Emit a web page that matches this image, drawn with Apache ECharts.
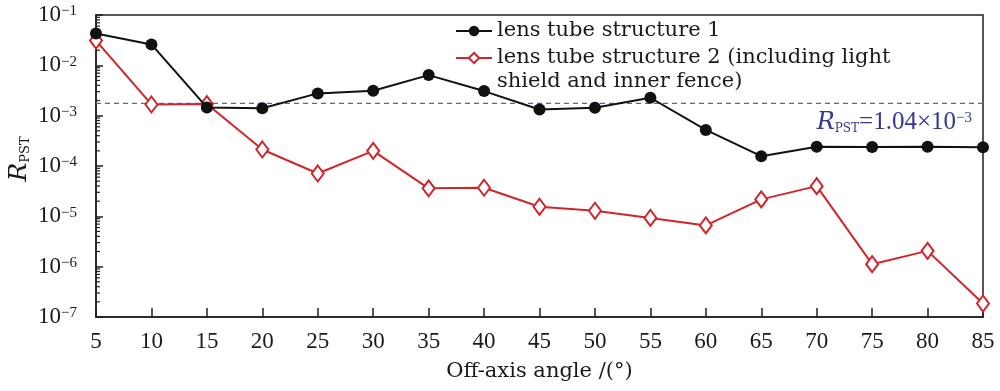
<!DOCTYPE html>
<html><head><meta charset="utf-8">
<script src="https://cdn.jsdelivr.net/npm/echarts@6/dist/echarts.min.js"></script>
<style>html,body{margin:0;padding:0;background:#fff}#c{width:1000px;height:391px}</style>
</head><body><div id="c"></div>
<script>
const angles = [5,10,15,20,25,30,35,40,45,50,55,60,65,70,75,80,85];
const structure1 = [4.3e-2,2.6e-2,1.46e-3,1.40e-3,2.77e-3,3.13e-3,6.4e-3,3.08e-3,1.33e-3,1.44e-3,2.27e-3,5.2e-4,1.57e-4,2.41e-4,2.38e-4,2.41e-4,2.35e-4];
const structure2 = [3.1e-2,1.67e-3,1.70e-3,2.13e-4,7.1e-5,2.0e-4,3.6e-5,3.7e-5,1.55e-5,1.29e-5,9.3e-6,6.6e-6,2.17e-5,3.98e-5,1.12e-6,2.06e-6,1.85e-7];
const seriesNames = ['lens tube structure 1','lens tube structure 2 (including light\nshield and inner fence)'];
const refLineValue = 1.76e-3;
const refLineLabel = '{r|R}{s|PST}{n|=1.04×10}{e|−3}';
const yMin = 1e-7, yMax = 1e-1, xMin = 5, xMax = 85;

const minorVals = [];
for (let k = -7; k <= -2; k++) for (let m = 2; m <= 9; m++) minorVals.push(m * Math.pow(10, k));

const FONT = 'DejaVu Serif';
const NUMFONT = 'Liberation Serif';
const legendText = {fontFamily:FONT,fontSize:21,color:'#1a1a1a',lineHeight:24};
const chart = echarts.init(document.getElementById('c'), null, {renderer:'canvas'});
chart.setOption({
  animation:false,
  backgroundColor:'#fff',
  grid:{left:96,right:17,top:15,bottom:74,containLabel:false,outerBoundsMode:'none',show:true,borderColor:'#231f20',borderWidth:1.5,backgroundColor:'transparent'},
  legend:[
    {orient:'vertical',left:450,top:14,itemWidth:36,itemHeight:13,textStyle:legendText,data:[seriesNames[0]]},
    {orient:'vertical',left:450,top:17,itemWidth:36,itemHeight:13,textStyle:legendText,data:[seriesNames[1]],
     formatter:function(n){return ' \n'+n;}}
  ],
  xAxis:{
    type:'value',min:xMin,max:xMax,interval:5,
    axisLine:{lineStyle:{color:'#231f20',width:1.5}},
    axisTick:{inside:true,length:9,lineStyle:{color:'#231f20',width:1.5}},
    axisLabel:{fontFamily:NUMFONT,fontSize:23,color:'#1a1a1a',margin:13},
    splitLine:{show:false},
    name:'Off-axis angle /(°)',nameLocation:'middle',nameGap:44,
    nameTextStyle:{fontFamily:FONT,fontSize:21,color:'#1a1a1a'}
  },
  yAxis:{
    type:'log',logBase:10,min:yMin,max:yMax,
    axisLine:{lineStyle:{color:'#231f20',width:1.5}},
    axisTick:{inside:true,length:7,lineStyle:{color:'#231f20',width:1.5}},
    splitLine:{show:false},
    axisLabel:{margin:19,formatter:function(v){const e=Math.round(Math.log10(v));return '{b|10}{e|−'+Math.abs(e)+'}';},
      rich:{b:{fontFamily:NUMFONT,fontSize:23,color:'#1a1a1a',lineHeight:22},e:{fontFamily:NUMFONT,fontSize:15,color:'#1a1a1a',verticalAlign:'top',lineHeight:14}}},
    name:'{r|R}{s|PST}',nameLocation:'middle',nameGap:64,nameRotate:90,nameMoveOverlap:false,
    nameTextStyle:{padding:[0,0,0,14],rich:{r:{fontFamily:FONT,fontStyle:'italic',fontSize:25,color:'#1a1a1a'},s:{fontFamily:FONT,fontSize:13,color:'#1a1a1a',verticalAlign:'bottom',padding:[6,0,0,0]}}}
  },
  series:[
    {
      name:seriesNames[0],type:'line',data:angles.map((a,i)=>[a,structure1[i]]),
      symbol:'circle',symbolSize:12,color:'#111',
      lineStyle:{color:'#111',width:2},itemStyle:{color:'#111'},z:3
    },
    {
      name:seriesNames[1],type:'line',data:angles.map((a,i)=>[a,structure2[i]]),
      symbol:'emptyDiamond',symbolSize:[12,16],color:'#d0262b',
      lineStyle:{color:'#d0262b',width:2},itemStyle:{color:'#d0262b',borderWidth:2},z:2
    },
    {
      name:'ref',type:'line',silent:true,symbol:'none',z:1,
      data:[[xMin,refLineValue],[xMax,refLineValue]],
      lineStyle:{color:'#5365b5',type:[5,4],width:1.2},
      endLabel:{show:true,formatter:refLineLabel,distance:0,align:'right',verticalAlign:'top',offset:[-11,7],
        rich:{r:{fontFamily:FONT,fontStyle:'italic',fontSize:24,color:'#35398c'},
              s:{fontFamily:FONT,fontSize:12,color:'#35398c',verticalAlign:'bottom',padding:[8,0,0,0]},
              n:{fontFamily:NUMFONT,fontSize:25,color:'#35398c'},
              e:{fontFamily:NUMFONT,fontSize:15,color:'#35398c',verticalAlign:'top'}}}
    },
    {
      type:'custom',silent:true,data:minorVals.map(v=>[xMin,v]),
      renderItem:function(params,api){
        const p=api.coord([api.value(0),api.value(1)]);
        return {type:'line',shape:{x1:p[0],y1:p[1],x2:p[0]+4,y2:p[1]},style:{stroke:'#231f20',lineWidth:1.2}};
      },z:1
    }
  ]
});
</script></body></html>
